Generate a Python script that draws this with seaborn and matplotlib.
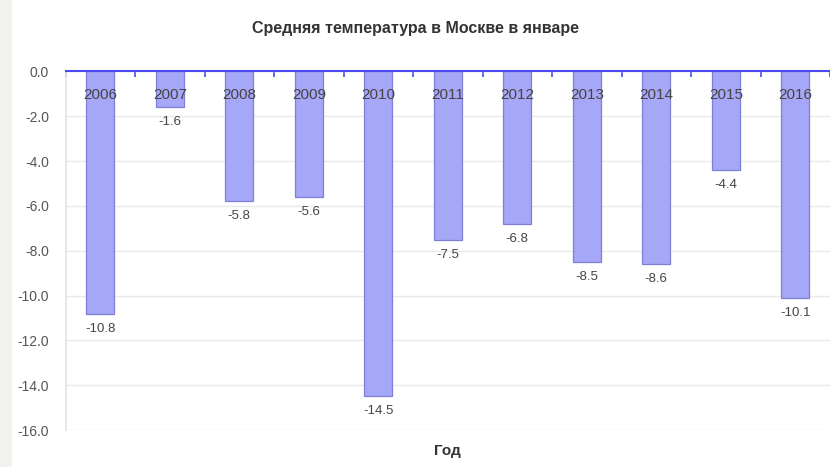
import matplotlib
matplotlib.use("Agg")
import matplotlib.pyplot as plt
import matplotlib.patches as mpatches
import seaborn as sns
import pandas as pd

years = ["2006", "2007", "2008", "2009", "2010", "2011", "2012", "2013", "2014", "2015", "2016"]
temps = [-10.8, -1.6, -5.8, -5.6, -14.5, -7.5, -6.8, -8.5, -8.6, -4.4, -10.1]
y_ticks = [0.0, -2.0, -4.0, -6.0, -8.0, -10.0, -12.0, -14.0, -16.0]

sns.set_theme(style="white")
plt.rcParams["font.family"] = ["Liberation Sans", "DejaVu Sans"]

df = pd.DataFrame({"year": years, "temp": temps})

fig = plt.figure(figsize=(8.3, 4.67), dpi=100)
fig.patch.set_facecolor("white")
# light grey strip on the left edge
fig.patches.append(mpatches.Rectangle((0, 0), 0.014, 1, transform=fig.transFigure,
                                      facecolor="#f1f1ee", edgecolor="none", zorder=0))
ax = fig.add_axes([0.079, 0.079, 0.921, 0.768])

sns.barplot(data=df, x="year", y="temp", ax=ax, color="#a7a7f7", width=0.4,
            edgecolor="#7f7fd8", linewidth=0.9, saturation=1, zorder=3)

ax.set_ylim(-16, 0)
ax.set_xlim(-0.5, len(years) - 0.5)
ax.set_yticks(y_ticks)
ax.set_yticklabels([f"{t:.1f}" for t in y_ticks], color="#555555", fontsize=10)
ax.tick_params(axis="y", length=0, pad=12)
ax.yaxis.grid(True, color="#eaeaea", linewidth=1, zorder=0)

# category tick marks on the zero line, year labels inside the plot
ax.set_xticks([i - 0.5 for i in range(len(years) + 1)])
ax.set_xticklabels([])
ax.xaxis.tick_top()
ax.tick_params(axis="x", direction="in", length=4, width=1.2, color="#4a4aee", top=True, bottom=False)
for i, y in enumerate(years):
    ax.text(i, -0.75, y, ha="center", va="top", fontsize=11, color="#444444", zorder=5)

for i, v in enumerate(temps):
    ax.text(i, v - 0.4, f"{v:.1f}", ha="center", va="top", fontsize=9.5, color="#444444")

for side in ["right", "bottom"]:
    ax.spines[side].set_visible(False)
ax.spines["left"].set_color("#e4e4e4")
ax.spines["top"].set_color("#4a4aee")
ax.spines["top"].set_linewidth(1.5)
ax.spines["top"].set_zorder(6)

ax.set_xlabel("Год", fontsize=11, fontweight="bold", color="#333333", labelpad=10)
ax.set_ylabel("")
fig.text(0.5, 0.94, "Средняя температура в Москве в январе", ha="center", va="center",
         fontsize=11.5, fontweight="bold", color="#333333")

fig.savefig("out.png", dpi=100)
